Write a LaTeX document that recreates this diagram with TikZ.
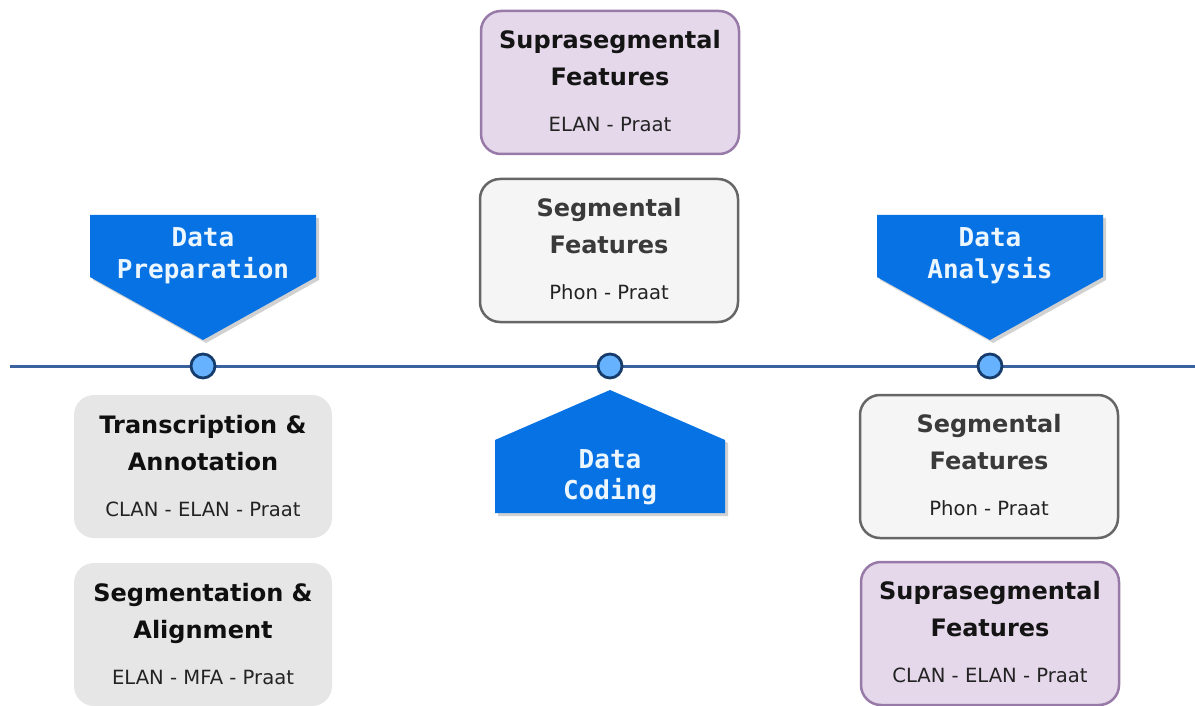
\documentclass[tikz,border=0pt]{standalone}
\usepackage{fontspec}
\setmainfont{DejaVu Sans}
\newfontfamily\tagfont{DejaVu Sans Mono}
\usepackage{tikz}

\definecolor{lineblue}{RGB}{58,98,158}
\definecolor{dotfill}{RGB}{102,178,255}
\definecolor{dotrim}{RGB}{22,60,108}
\definecolor{tagblue}{RGB}{6,114,228}
\definecolor{tagink}{RGB}{236,246,255}
\definecolor{suprafill}{RGB}{229,216,235}
\definecolor{supradraw}{RGB}{152,122,168}
\definecolor{segfill}{RGB}{245,245,245}
\definecolor{segdraw}{RGB}{102,102,102}
\definecolor{taskfill}{RGB}{230,230,230}

\tikzset{
    timeline/.style={draw=lineblue, line width=3pt},
    milestone/.style={circle, draw=dotrim, fill=dotfill, line width=2.8pt, minimum size=24pt, inner sep=0pt},
    tagshape/.style={fill=tagblue},
    tagshadow/.style={fill=black!18},
    tagtext/.style={font={\tagfont\bfseries\fontsize{26}{31}\selectfont}, text=tagink, anchor=base, inner sep=0pt},
    featbox/.style={rounded corners=20pt, minimum width=258pt, minimum height=143pt, inner sep=0pt},
    suprabox/.style={featbox, fill=suprafill, draw=supradraw, line width=2.5pt},
    segbox/.style={featbox, fill=segfill, draw=segdraw, line width=2.5pt},
    taskbox/.style={featbox, fill=taskfill},
    suprabox ink/.style={text={rgb,255:red,20;green,20;blue,20}},
    segbox ink/.style={text={rgb,255:red,58;green,58;blue,58}},
    taskbox ink/.style={text={rgb,255:red,15;green,15;blue,15}},
    boxtitle/.style={font={\bfseries\fontsize{24}{28}\selectfont}, anchor=base, inner sep=0pt},
    boxtools/.style={font={\fontsize{19.6}{23}\selectfont}, text={rgb,255:red,35;green,35;blue,35}, anchor=base, inner sep=0pt},
}

% box with a two line title and the tools underneath
\newcommand{\featurebox}[6]{%
    \node[#2] (#1) at #3 {};
    \node[boxtitle, #2 ink] (#1-top) at ([shift={(0,39)}]#1.north) {#4};
    \node[boxtitle, #2 ink] (#1-mid) at ([shift={(0,76)}]#1.north) {#5};
    \node[boxtools] (#1-tools) at ([shift={(0,122)}]#1.north) {#6};
}

\begin{document}
\begin{tikzpicture}[x=1pt, y=-1pt]
    \useasboundingbox (0,0) rectangle (1195,706);

    % time line and milestones
    \coordinate (tl-start) at (10,366);
    \coordinate (tl-end) at (1195,366);
    \draw[timeline] (tl-start) -- (tl-end);
    \node[milestone] (prep) at (203,366) {};
    \node[milestone] (coding) at (610,366) {};
    \node[milestone] (analysis) at (990,366) {};

    % tags above the line point down
    \foreach \m in {prep, analysis} {
        \fill[tagshadow] ([shift={(-110,-148)}]\m.center) -- ++(226,0) -- ++(0,62) -- ++(-113,63) -- ++(-113,-63) -- cycle;
        \fill[tagshape] ([shift={(-113,-151)}]\m.center) -- ++(226,0) -- ++(0,62) -- ++(-113,63) -- ++(-113,-63) -- cycle;
    }
    % tag below the line points up
    \fill[tagshadow] ([shift={(3,27)}]coding.center) -- ++(115,50) -- ++(0,73) -- ++(-230,0) -- ++(0,-73) -- cycle;
    \fill[tagshape] ([shift={(0,24)}]coding.center) -- ++(115,50) -- ++(0,73) -- ++(-230,0) -- ++(0,-73) -- cycle;

    \node[tagtext] (prep-a) at ([shift={(0,-119)}]prep.center) {Data};
    \node[tagtext] (prep-b) at ([shift={(0,-88)}]prep.center) {Preparation};
    \node[tagtext] (analysis-a) at ([shift={(0,-119)}]analysis.center) {Data};
    \node[tagtext] (analysis-b) at ([shift={(0,-88)}]analysis.center) {Analysis};
    \node[tagtext] (coding-a) at ([shift={(0,102)}]coding.center) {Data};
    \node[tagtext] (coding-b) at ([shift={(0,133)}]coding.center) {Coding};

    % feature boxes
    \featurebox{supraTop}{suprabox}{(610,82.5)}{Suprasegmental}{Features}{ELAN - Praat}
    \featurebox{segTop}{segbox}{(609,250.5)}{Segmental}{Features}{Phon - Praat}
    \featurebox{transcr}{taskbox}{(203,466.5)}{Transcription \&}{Annotation}{CLAN - ELAN - Praat}
    \featurebox{segment}{taskbox}{(203,634.5)}{Segmentation \&}{Alignment}{ELAN - MFA - Praat}
    \featurebox{segRight}{segbox}{(989,466.5)}{Segmental}{Features}{Phon - Praat}
    \featurebox{supraRight}{suprabox}{(990,633.5)}{Suprasegmental}{Features}{CLAN - ELAN - Praat}
\end{tikzpicture}
\end{document}
